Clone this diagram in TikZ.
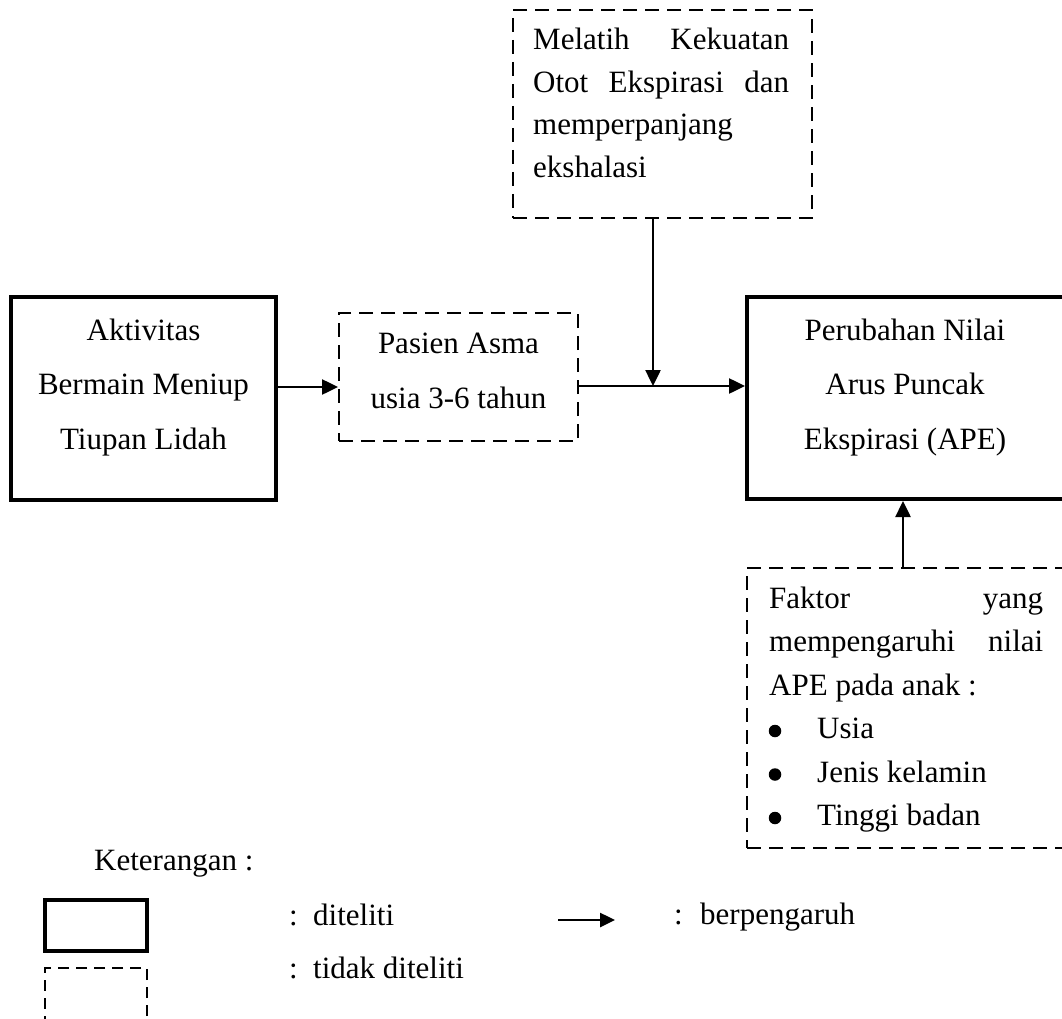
\documentclass[tikz,border=0pt]{standalone}
\usepackage{fontspec}
\setmainfont{Liberation Serif}
\usetikzlibrary{arrows.meta}
\newcommand\cstack[2]{\vtop{\baselineskip=#1\relax\halign{\hfil##\hfil\cr#2\crcr}}}
\newcommand\lstack[2]{\vtop{\baselineskip=#1\relax\halign{##\hfil\cr#2\crcr}}}
\newcommand\bul{\hspace*{48pt}}
\begin{document}
\begin{tikzpicture}[x=1pt,y=-1pt,
  every node/.style={inner sep=0pt, font=\fontsize{31}{42}\selectfont},
  solidbox/.style={draw, rectangle, line width=4pt},
  dashbox/.style={draw, rectangle, line width=2pt, dash pattern=on 14pt off 8pt},
  legdash/.style={draw, rectangle, line width=1.6pt, dash pattern=on 11pt off 7pt},
  conn/.style={line width=2.5pt, -{Triangle[length=16pt,width=15pt]}},
  legconn/.style={line width=2.5pt, -{Triangle[length=15pt,width=14pt]}},
  bulletdot/.style={circle, fill, minimum size=12.5pt},
]
\useasboundingbox (0,0) rectangle (1062,1019);

% boxes
\node[solidbox, minimum width=265pt, minimum height=203pt] (A) at (143.5,398.5) {};
\node[dashbox, minimum width=239pt, minimum height=128pt] (P) at (458.5,377) {};
\node[dashbox, minimum width=299pt, minimum height=208pt] (T) at (662.5,114) {};
\node[solidbox, minimum width=318pt, minimum height=202pt] (R) at (906,398) {};
\node[dashbox, minimum width=318pt, minimum height=280pt] (F) at (906,708) {};

% texts
\node[anchor=base] (tA) at (143.5,340) {\cstack{54.5pt}{Aktivitas\cr Bermain Meniup\cr Tiupan Lidah}};
\node[anchor=base] (tP) at (458.5,353) {\cstack{55pt}{Pasien Asma\cr usia 3-6 tahun}};
\node[anchor=base] (tR) at (905,340) {\cstack{54.5pt}{Perubahan Nilai\cr Arus Puncak\cr Ekspirasi (APE)}};
\node[anchor=base west] (tT) at (533,50) {\lstack{42.5pt}{\makebox[256pt][s]{Melatih Kekuatan}\cr \makebox[256pt][s]{Otot Ekspirasi dan}\cr memperpanjang\cr ekshalasi}};
\node[anchor=base west] (tF) at (769,608) {\lstack{43.5pt}{\makebox[274pt][s]{Faktor yang}\cr \makebox[274pt][s]{mempengaruhi nilai}\cr APE pada anak :\cr \bul Usia\cr \bul Jenis kelamin\cr \bul Tinggi badan}};
\node[bulletdot] (b1) at (775,731) {};
\node[bulletdot] (b2) at (775,774.5) {};
\node[bulletdot] (b3) at (775,818) {};

% connectors
\coordinate (y1) at (0,387);
\draw[conn] (A.east |- y1) -- (P.west |- y1);
\coordinate (J) at (653,386);
\draw[line width=2.5pt] (P.east |- J) -- (J);
\draw[conn] (J) -- (R.west |- J);
\draw[conn] (T.south -| J) -- (J);
\coordinate (xF) at (903,0);
\draw[conn] (F.north -| xF) -- (R.south -| xF);

% legend
\node[anchor=base west] (ket) at (94,870) {Keterangan :};
\node[solidbox, minimum width=102pt, minimum height=51pt] (L1) at (96,925.5) {};
\node[legdash, minimum width=102pt, minimum height=72pt] (L2) at (96,1004) {};
\node[anchor=base west] (l1t) at (289,925) {\makebox[24pt][l]{:}diteliti};
\node[anchor=base west] (l2t) at (289,978) {\makebox[24pt][l]{:}tidak diteliti};
\coordinate (la1) at (558,920);
\coordinate (la2) at (615,920);
\draw[legconn] (la1) -- (la2);
\node[anchor=base west] (l3t) at (674,924) {\makebox[26pt][l]{:}berpengaruh};
\end{tikzpicture}
\end{document}
